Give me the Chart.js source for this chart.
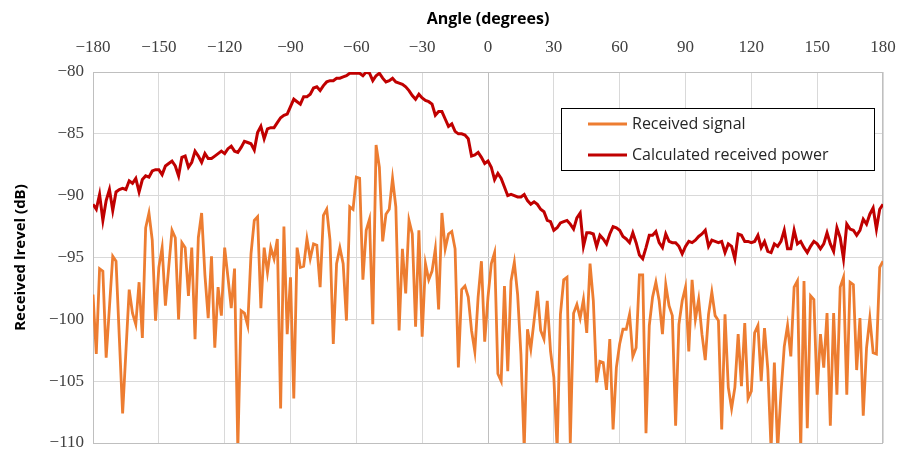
<!DOCTYPE html>
<html>
<head>
<meta charset="utf-8">
<script src="https://cdn.jsdelivr.net/npm/chart.js@4.4.1/dist/chart.umd.min.js"></script>
<style>
  html, body { margin: 0; padding: 0; background: #fff; }
  #wrap { width: 903px; height: 453px; }
</style>
</head>
<body>
<div id="wrap"><canvas id="grafico" width="903" height="453"></canvas></div>
<script>
// angle samples every 1.5 degrees, -180 .. 180
const angles = [];
for (let a = -180; a <= 180; a += 1.5) angles.push(a);

const xTicks = [-180, -150, -120, -90, -60, -30, 0, 30, 60, 90, 120, 150, 180];
const yTicks = [-110, -105, -100, -95, -90, -85, -80];

const seriesNames = ['Received signal', 'Calculated received power'];

// measured (orange)
const receivedSignal = [
  -98.0, -102.8, -95.9, -96.1, -103.1, -99.0, -94.9, -95.3, -101.5, -107.6,
  -102.6, -97.6, -99.5, -100.4, -97.0, -101.5, -92.6, -91.4, -93.6, -100.1,
  -95.8, -94.2, -98.9, -95.8, -92.8, -93.4, -100.0, -93.8, -94.2, -98.1,
  -94.2, -101.6, -93.4, -91.4, -96.4,
  -99.9, -94.9, -102.3, -97.4, -99.7, -94.2, -96.6, -99.1, -95.9, -110.5,
  -99.3, -99.5, -100.5, -94.7, -92.0, -91.7, -99.1, -94.2, -96.2, -94.2,
  -95.1, -93.5, -107.2, -92.5, -101.2, -96.6, -106.4, -94.2, -95.8, -95.7,
  -93.5, -95.1, -93.9, -94.0,
  -97.4, -91.6, -91.1, -93.6, -102.0, -95.5, -94.2, -95.5, -100.1, -90.9,
  -91.1, -88.5, -88.6, -96.8, -92.8, -91.9, -100.4, -85.9, -87.7, -93.7,
  -91.5, -91.1, -88.6, -90.9, -100.9, -94.3, -97.9, -92.0, -93.1, -100.6,
  -92.8, -101.4, -95.5, -96.8,
  -96.1, -94.3, -99.2, -91.4, -94.3, -93.1, -92.9, -94.3, -103.9, -97.6,
  -97.3, -98.2, -100.9, -102.6, -98.2, -95.3, -101.8, -98.2, -95.5, -94.6,
  -104.4, -105.0, -97.3, -104.2, -96.9, -95.4, -98.0, -102.8, -110.5, -100.8,
  -102.4, -100.1, -97.7, -100.9, -101.6,
  -98.5, -102.6, -104.7, -110.5, -99.6, -96.8, -96.6, -110.0, -99.5, -98.8,
  -99.9, -98.4, -101.1, -95.5, -98.5, -105.1, -103.4, -103.5, -105.7, -101.6,
  -108.9, -103.9, -102.0, -100.8, -100.8, -99.6, -103.0, -102.3, -96.4, -96.4,
  -109.2, -100.5, -98.2, -97.0,
  -98.5, -101.2, -97.2, -98.9, -99.7, -108.6, -100.4, -98.5, -97.4, -102.6,
  -96.8, -100.0, -98.4, -101.2, -103.3, -99.6, -97.8, -99.7, -100.1, -108.9,
  -99.6, -105.5, -107.2, -105.5, -101.2, -105.4, -100.3, -106.4, -105.8, -101.1,
  -100.5, -105.0, -100.7, -104.0,
  -110.5, -103.5, -110.5, -106.0, -102.2, -100.5, -103.0, -97.4, -96.9, -110.5,
  -96.9, -108.8, -98.1, -98.4, -106.1, -101.2, -103.9, -99.5, -108.6, -99.5,
  -106.1, -97.4, -96.6, -106.1, -97.0, -97.2, -104.1, -99.9, -107.8, -102.3,
  -99.9, -102.7, -102.8, -95.8, -95.3
];

// calculated (dark red)
const calculatedPower = [
  -90.7, -91.1, -89.9, -92.0, -90.4, -89.5, -91.2, -89.7, -89.5, -89.4,
  -89.5, -88.8, -89.0, -88.6, -89.7, -88.7, -88.4, -88.5, -88.0, -87.9,
  -87.9, -88.3, -87.6, -87.4, -87.2, -87.6, -88.4, -86.9, -86.8, -87.7,
  -87.3, -86.4, -86.8, -87.3, -86.6,
  -87.0, -87.0, -86.8, -86.6, -86.4, -86.6, -86.2, -86.0, -86.4, -86.5,
  -86.1, -85.6, -85.7, -85.8, -86.3, -84.9, -84.4, -85.4, -84.6, -84.5,
  -84.5, -84.1, -83.7, -83.5, -83.4, -82.8, -82.2, -82.4, -82.6, -82.0,
  -82.0, -81.8, -81.3, -81.2,
  -81.5, -81.1, -80.8, -80.7, -80.7, -80.5, -80.5, -80.4, -80.3, -80.1,
  -80.1, -80.1, -80.1, -80.3, -80.0, -80.1, -80.7, -80.3, -80.1, -80.5,
  -80.8, -80.7, -80.5, -80.8, -80.9, -81.0, -81.2, -81.5, -81.9, -82.2,
  -81.8, -82.1, -82.3, -82.4,
  -82.6, -83.5, -83.2, -83.2, -83.8, -84.4, -84.2, -84.8, -85.0, -85.0,
  -85.1, -85.4, -86.8, -86.7, -86.5, -86.9, -87.4, -87.2, -87.7, -88.7,
  -88.2, -88.6, -89.3, -90.0, -89.9, -90.0, -90.1, -90.1, -89.9, -90.4,
  -90.7, -90.5, -90.7, -91.1, -91.3,
  -92.0, -92.1, -92.8, -92.6, -92.2, -92.1, -92.0, -92.3, -92.7, -91.8,
  -91.4, -94.1, -93.0, -93.0, -93.1, -94.1, -93.2, -93.5, -93.9, -93.1,
  -92.5, -92.6, -92.8, -93.3, -93.5, -93.8, -93.0, -93.8, -94.8, -95.1,
  -94.2, -93.2, -93.2, -92.9,
  -93.8, -94.2, -93.1, -93.7, -93.8, -93.8, -94.1, -94.7, -94.1, -93.7,
  -93.8, -93.6, -93.3, -93.1, -92.8, -94.1, -93.6, -93.7, -93.8, -93.7,
  -94.6, -93.9, -94.1, -95.1, -93.1, -93.2, -93.7, -93.7, -93.8, -93.7,
  -93.2, -94.2, -93.7, -94.5,
  -94.6, -93.9, -94.1, -93.7, -92.8, -94.3, -94.3, -92.8, -93.9, -93.7,
  -94.2, -94.6, -94.1, -93.7, -93.9, -94.3, -93.9, -93.0, -93.9, -94.5,
  -92.6, -93.4, -95.1, -92.3, -92.7, -92.8, -93.2, -92.8, -91.9, -92.3,
  -91.5, -91.0, -92.7, -91.1, -90.7
];

const colores = ['#ED7D31', '#C00000'];

function menos(v) {
  return String(v).replace('-', '\u2212');
}

function puntos(valores) {
  return angles.map((a, i) => ({ x: a, y: valores[i] }));
}

// no extra room for overflowing tick labels, the frame is fixed by hand
function sinRelleno(s) {
  s.paddingLeft = 0;
  s.paddingRight = 0;
  s.paddingTop = 0;
  s.paddingBottom = 0;
}

// plot frame + legend box drawn inside the plot, like the original
const marcoYLeyenda = {
  id: 'marcoYLeyenda',
  beforeDatasetsDraw(chart) {
    const { ctx, chartArea: ca } = chart;
    ctx.save();
    ctx.strokeStyle = '#bfbfbf';
    ctx.lineWidth = 1;
    ctx.strokeRect(ca.left + 0.5, ca.top + 0.5, ca.right - ca.left - 1, ca.bottom - ca.top);
    ctx.restore();
  },
  afterDraw(chart) {
    const ctx = chart.ctx;
    const bx = 561, by = 108, bw = 313, bh = 62;
    ctx.save();
    ctx.fillStyle = '#fff';
    ctx.fillRect(bx, by, bw, bh);
    ctx.strokeStyle = '#000';
    ctx.lineWidth = 1;
    ctx.strokeRect(bx + 0.5, by + 0.5, bw, bh);
    ctx.font = '16px "Open Sans"';
    ctx.textBaseline = 'middle';
    chart.data.datasets.forEach((ds, i) => {
      const y = by + 16 + i * 31;
      ctx.strokeStyle = ds.borderColor;
      ctx.lineWidth = 3;
      ctx.beginPath();
      ctx.moveTo(588, y);
      ctx.lineTo(627, y);
      ctx.stroke();
      ctx.fillStyle = '#262626';
      ctx.fillText(ds.label, 632, y);
    });
    ctx.restore();
  }
};

const ctx = document.getElementById('grafico').getContext('2d');
new Chart(ctx, {
  type: 'line',
  data: {
    datasets: [
      {
        label: seriesNames[0],
        data: puntos(receivedSignal),
        borderColor: colores[0],
        borderWidth: 2.8,
        pointRadius: 0,
        tension: 0
      },
      {
        label: seriesNames[1],
        data: puntos(calculatedPower),
        borderColor: colores[1],
        borderWidth: 3,
        pointRadius: 0,
        tension: 0
      }
    ]
  },
  options: {
    responsive: false,
    animation: false,
    layout: { padding: { left: 0, right: 20, top: 0, bottom: 10 } },
    plugins: {
      legend: { display: false },
      tooltip: { enabled: false }
    },
    scales: {
      x: {
        type: 'linear',
        position: 'top',
        min: -180,
        max: 180,
        afterFit: s => { s.height = 72; sinRelleno(s); },
        afterBuildTicks: s => { s.ticks = xTicks.map(v => ({ value: v })); },
        ticks: {
          padding: 14,
          color: '#404040',
          font: { family: '"Liberation Serif"', size: 17 },
          callback: v => menos(v)
        },
        grid: {
          drawTicks: false,
          color: c => (c.tick && c.tick.value === 0 ? '#bfbfbf' : '#d9d9d9')
        },
        border: { display: false },
        title: {
          display: true,
          text: 'Angle (degrees)',
          color: '#000',
          font: { family: '"Open Sans"', size: 16, weight: 'bold' },
          padding: { top: 10, bottom: 0 }
        }
      },
      y: {
        min: -110,
        max: -80,
        afterFit: s => { s.width = 93; sinRelleno(s); },
        afterBuildTicks: s => { s.ticks = yTicks.map(v => ({ value: v })); },
        ticks: {
          padding: 9,
          color: '#404040',
          font: { family: '"Liberation Serif"', size: 17 },
          callback: v => menos(v)
        },
        grid: { drawTicks: false, color: '#d9d9d9' },
        border: { display: false },
        title: {
          display: true,
          text: 'Received lrevel (dB)',
          color: '#000',
          font: { family: '"Open Sans"', size: 15, weight: 'bold' },
          padding: { top: 12, bottom: 0 }
        }
      }
    }
  },
  plugins: [marcoYLeyenda]
});
</script>
</body>
</html>
